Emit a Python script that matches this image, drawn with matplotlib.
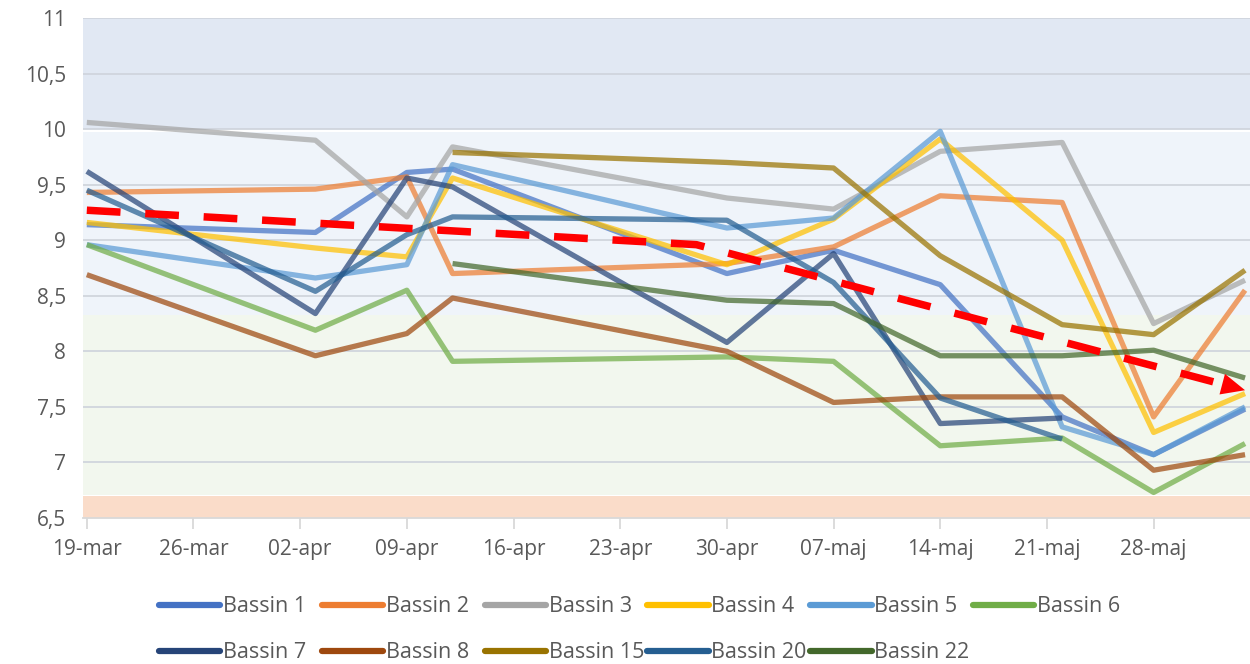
import numpy as np
import pandas as pd
import matplotlib
matplotlib.use("Agg")
import matplotlib.pyplot as plt
import matplotlib.dates as mdates
from matplotlib.lines import Line2D

plt.rcParams['font.family'] = ['Open Sans', 'DejaVu Sans']

# sample dates (pH measurements)
dates = pd.to_datetime(["2020-03-19", "2020-04-03", "2020-04-09", "2020-04-12", "2020-04-30",
                        "2020-05-07", "2020-05-14", "2020-05-22", "2020-05-28", "2020-06-03"])
nan = np.nan
bassin_1 = [9.14, 9.07, 9.61, 9.64, 8.70, 8.91, 8.60, 7.41, 7.07, 7.48]
bassin_2 = [9.43, 9.46, 9.57, 8.70, 8.79, 8.94, 9.40, 9.34, 7.41, 8.55]
bassin_3 = [10.06, 9.90, 9.21, 9.84, 9.38, 9.28, 9.80, 9.88, 8.25, 8.64]
bassin_4 = [9.16, 8.93, 8.85, 9.56, 8.78, 9.19, 9.91, 9.00, 7.27, 7.62]
bassin_5 = [8.96, 8.66, 8.78, 9.68, 9.11, 9.20, 9.98, 7.32, 7.07, 7.50]
bassin_6 = [8.96, 8.19, 8.55, 7.91, 7.95, 7.91, 7.15, 7.22, 6.73, 7.17]
bassin_7 = [9.62, 8.34, 9.56, 9.48, 8.08, 8.88, 7.35, 7.40, nan, nan]
bassin_8 = [8.69, 7.96, 8.16, 8.48, 8.00, 7.54, 7.59, 7.59, 6.93, 7.07]
bassin_15 = [nan, nan, nan, 9.79, 9.70, 9.65, 8.86, 8.24, 8.15, 8.73]
bassin_20 = [9.45, 8.54, 9.05, 9.21, 9.18, 8.62, 7.58, 7.21, nan, nan]
bassin_22 = [nan, nan, nan, 8.79, 8.46, 8.43, 7.96, 7.96, 8.01, 7.76]

names = ["Bassin 1", "Bassin 2", "Bassin 3", "Bassin 4", "Bassin 5", "Bassin 6",
         "Bassin 7", "Bassin 8", "Bassin 15", "Bassin 20", "Bassin 22"]
series = [bassin_1, bassin_2, bassin_3, bassin_4, bassin_5, bassin_6,
          bassin_7, bassin_8, bassin_15, bassin_20, bassin_22]
colors = ["#4472C4", "#ED7D31", "#A5A5A5", "#FFC000", "#5B9BD5", "#70AD47",
          "#264478", "#9E480E", "#997300", "#255E91", "#43682B"]

# trend arrow
trend_dates = pd.to_datetime(["2020-03-19", "2020-04-28", "2020-06-03"])
trend_vals = [9.27, 8.96, 7.65]

# background zones
band_lo = [6.5, 6.71, 8.33, 10.0]
band_hi = [6.7, 8.33, 9.97, 11.0]
band_colors = ["#FADCC9", "#F2F7EE", "#EFF4FA", "#E1E8F3"]

tick_dates = pd.date_range("2020-03-19", periods=11, freq="7D")
tick_labels = ["19-mar", "26-mar", "02-apr", "09-apr", "16-apr", "23-apr",
               "30-apr", "07-maj", "14-maj", "21-maj", "28-maj"]
ytick_vals = [6.5, 7, 7.5, 8, 8.5, 9, 9.5, 10, 10.5, 11]

fig = plt.figure(figsize=(12.5, 6.64), dpi=100)
ax = fig.add_axes([83 / 1250, 1 - 518 / 664, (1250 - 83) / 1250, 500 / 664])

for lo, hi, c in zip(band_lo, band_hi, band_colors):
    ax.axhspan(lo, hi, color=c, lw=0, zorder=0)

for y in ytick_vals[1:]:
    ax.axhline(y, color="#D0D5DD", lw=1.3, zorder=1)

x = mdates.date2num(dates)
for vals, c in zip(series, colors):
    ax.plot(x, vals, color=c, lw=3.8, alpha=0.72, solid_joinstyle="round",
            solid_capstyle="butt", zorder=3)

# dashed trend, stopped short of the arrow head
tx = mdates.date2num(trend_dates)
end_x = tx[-1] - 1.2
end_y = np.interp(end_x, tx[-2:], trend_vals[-2:])
ax.plot(list(tx[:-1]) + [end_x], list(trend_vals[:-1]) + [end_y], color="#FF0000",
        lw=5.4, dashes=(4.5, 3.3), dash_capstyle="butt", zorder=5)
ax.annotate("", xy=(tx[-1], trend_vals[-1]), xytext=(tx[-2], trend_vals[-2]),
            arrowprops=dict(arrowstyle="-|>,head_length=1.0,head_width=0.45",
                            mutation_scale=17, color="#FF0000", lw=0,
                            shrinkA=0, shrinkB=0), zorder=6)

x0 = mdates.date2num(pd.Timestamp("2020-03-19"))
ax.set_xlim(x0 - 0.25, x0 - 0.25 + 1167 / 15.24)
ax.set_ylim(6.5, 11)
ax.set_xticks(mdates.date2num(tick_dates))
ax.set_xticklabels(tick_labels)
ax.set_yticks(ytick_vals)
ax.set_yticklabels([f"{v:g}".replace(".", ",") for v in ytick_vals])

for s in ["top", "right", "left"]:
    ax.spines[s].set_visible(False)
ax.spines["bottom"].set_color("#D9D9D9")
ax.spines["bottom"].set_linewidth(1.3)
ax.spines["bottom"].set_zorder(2)
ax.tick_params(axis="x", colors="#595959", labelsize=15, length=8, width=1.3,
               color="#D9D9D9", pad=7)
ax.tick_params(axis="y", colors="#595959", labelsize=15, length=0, pad=12)

# legend: fixed-width slots, 6 per row (like Excel)
handles = [Line2D([0], [0], color=c, lw=4.5, solid_capstyle="round") for c in colors]
leg_kw = dict(frameon=False, fontsize=15.5, handlelength=2.85, handletextpad=0.12,
              borderpad=0, borderaxespad=0, labelcolor="#595959", loc="center left")
for i, (h, n) in enumerate(zip(handles, names)):
    row, col = divmod(i, 6)
    fig.legend([h], [n], bbox_to_anchor=((159 + 162.8 * col) / 1250, 1 - (607 + 46 * row) / 664),
               **leg_kw)

fig.savefig("out.png", dpi=100)
